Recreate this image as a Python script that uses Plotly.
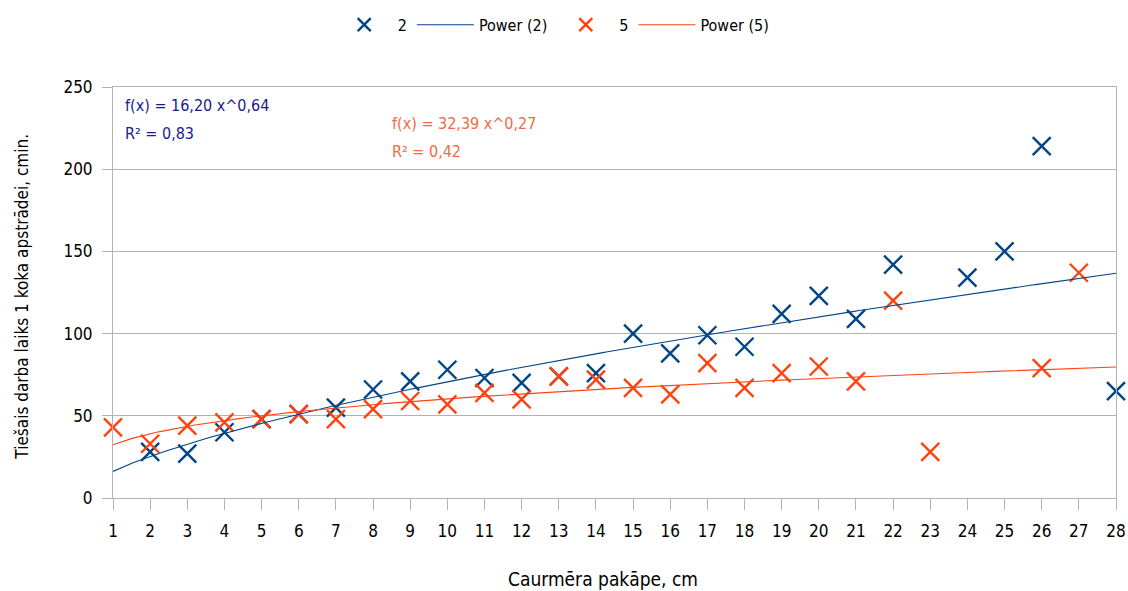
import numpy as np
import plotly.graph_objects as go

# ---- data ----
x_s2 = [2, 3, 4, 5, 6, 7, 8, 9, 10, 11, 12, 13, 14, 15, 16, 17, 18, 19, 20, 21, 22, 24, 25, 26, 28]
y_s2 = [28, 27, 40, 48, 51, 55, 66, 71, 78, 73, 70, 74, 76, 100, 88, 99, 92, 112, 123, 109, 142, 134, 150, 214, 65]

x_s5 = [1, 2, 3, 4, 5, 6, 7, 8, 9, 10, 11, 12, 13, 14, 15, 16, 17, 18, 19, 20, 21, 22, 23, 26, 27]
y_s5 = [43, 33, 44, 46, 48, 51, 48, 54, 59, 57, 64, 60, 74, 72, 67, 63, 82, 67, 76, 80, 71, 120, 28, 79, 137]

# power trendline coefficients printed on the chart
trend2_a, trend2_b = 16.20, 0.64
trend5_a, trend5_b = 32.39, 0.27

x_ticks = list(range(1, 29))
y_ticks = [0, 50, 100, 150, 200, 250]

eq2_text = ["f(x) = 16,20 x^0,64", "R² = 0,83"]
eq5_text = ["f(x) = 32,39 x^0,27", "R² = 0,42"]

BLUE = "#004586"
ORANGE = "#ff420e"
GRID = "#b3b3b3"
FONT = "DejaVu Sans Condensed, Liberation Sans Narrow, sans-serif"

xt = np.linspace(min(x_ticks), max(x_ticks), 300)


def marker_style(color, size):
    return dict(symbol="x-thin", size=size, color=color, line=dict(color=color, width=2.4))


fig = go.Figure()
# data traces (legend shown through smaller-marker legend entries below)
fig.add_trace(go.Scatter(x=x_s2, y=y_s2, mode="markers", name="2", legendgroup="2",
                         showlegend=False, marker=marker_style(BLUE, 18), cliponaxis=False))
fig.add_trace(go.Scatter(x=x_s5, y=y_s5, mode="markers", name="5", legendgroup="5",
                         showlegend=False, marker=marker_style(ORANGE, 18), cliponaxis=False))
# legend entries for the point series
fig.add_trace(go.Scatter(x=[None], y=[None], mode="markers", name="2", legendgroup="2",
                         legendrank=1, marker=marker_style(BLUE, 13)))
fig.add_trace(go.Scatter(x=[None], y=[None], mode="markers", name="5", legendgroup="5",
                         legendrank=3, marker=marker_style(ORANGE, 13)))
# power trendlines
fig.add_trace(go.Scatter(x=xt, y=trend2_a * xt ** trend2_b, mode="lines", name="Power (2)",
                         legendrank=2, line=dict(color=BLUE, width=1.1)))
fig.add_trace(go.Scatter(x=xt, y=trend5_a * xt ** trend5_b, mode="lines", name="Power (5)",
                         legendrank=4, line=dict(color=ORANGE, width=1.1)))

annotations = [
    dict(text=eq2_text[0], x=0.0099, y=0.954, xref="paper", yref="paper",
         xanchor="left", yanchor="middle", showarrow=False,
         font=dict(size=16, color="#1a1a8c", family=FONT)),
    dict(text=eq2_text[1], x=0.0099, y=0.888, xref="paper", yref="paper",
         xanchor="left", yanchor="middle", showarrow=False,
         font=dict(size=16, color="#1a1a8c", family=FONT)),
    dict(text=eq5_text[0], x=0.276, y=0.912, xref="paper", yref="paper",
         xanchor="left", yanchor="middle", showarrow=False,
         font=dict(size=16, color="#f06a43", family=FONT)),
    dict(text=eq5_text[1], x=0.276, y=0.843, xref="paper", yref="paper",
         xanchor="left", yanchor="middle", showarrow=False,
         font=dict(size=16, color="#f06a43", family=FONT)),
    dict(text="Caurmēra pakāpe, cm", x=0.4886, y=-0.197, xref="paper", yref="paper",
         xanchor="center", yanchor="middle", showarrow=False,
         font=dict(size=19, color="black", family=FONT)),
    dict(text="Tiešais darba laiks 1 koka apstrādei, cmin.", x=-0.0907, y=0.49,
         xref="paper", yref="paper", textangle=-90,
         xanchor="center", yanchor="middle", showarrow=False,
         font=dict(size=17, color="black", family=FONT)),
]

fig.update_layout(
    width=1128, height=591,
    margin=dict(l=113, r=12, t=87, b=93, autoexpand=False),
    paper_bgcolor="white", plot_bgcolor="white",
    font=dict(family=FONT, size=16, color="black"),
    showlegend=True,
    legend=dict(orientation="h", xref="container", yref="container",
                x=0.49, xanchor="center", y=0.958, yanchor="middle",
                itemwidth=57, traceorder="normal",
                font=dict(size=16, family=FONT), bgcolor="rgba(0,0,0,0)"),
    annotations=annotations,
    xaxis=dict(range=[1, 28], tickmode="array", tickvals=x_ticks,
               ticktext=[str(v) for v in x_ticks], automargin=False,
               showgrid=False, zeroline=False, showline=True, linecolor=GRID, linewidth=1,
               mirror=True, ticks="outside", ticklen=11, tickcolor=GRID, tickwidth=1,
               tickfont=dict(size=17, family=FONT), ticklabelstandoff=7),
    yaxis=dict(range=[0, 250], tickmode="array", tickvals=y_ticks, automargin=False,
               showgrid=True, gridcolor=GRID, gridwidth=1, zeroline=False,
               showline=True, linecolor=GRID, linewidth=1, mirror=True,
               ticks="outside", ticklen=10, tickcolor=GRID, tickwidth=1,
               tickfont=dict(size=17, family=FONT), ticklabelstandoff=6),
)

fig.write_html("out.html")
